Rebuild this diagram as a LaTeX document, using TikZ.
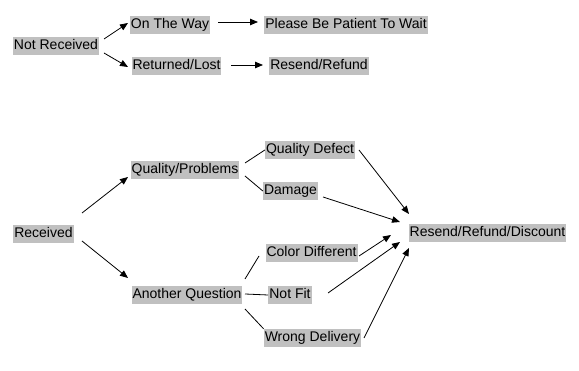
\documentclass[tikz,border=0pt]{standalone}
\usepackage{fontspec}
\setmainfont{Liberation Sans}
\usetikzlibrary{arrows.meta}
\tikzset{
  lbl/.style={fill=gray!50!white!95!black, inner xsep=1pt, inner ysep=2.5pt, text height=10pt, text depth=3pt, font=\fontsize{14}{16}\selectfont},
  arr/.style={-{Triangle[length=8pt,width=6.5pt]}, line width=0.8pt},
  ln/.style={line width=0.8pt}
}
\begin{document}
\begin{tikzpicture}[x=1pt,y=-1pt]
\useasboundingbox (0,0) rectangle (579,371);
\definecolor{boxgray}{RGB}{192,192,192}
\tikzset{lbl/.append style={fill=boxgray}}
\node[lbl] (nr) at (56,46) {Not Received};
\node[lbl] (otw) at (170,25) {On The Way};
\node[lbl] (pat) at (346,25) {Please Be Patient To Wait};
\node[lbl] (rl) at (176.5,66) {Returned/Lost};
\node[lbl] (rr) at (319,66) {Resend/Refund};
\node[lbl] (rec) at (43.5,234) {Received};
\node[lbl] (qp) at (185,170) {Quality/Problems};
\node[lbl] (aq) at (187,295) {Another Question};
\node[lbl] (qd) at (310,150) {Quality Defect};
\node[lbl] (dm) at (290.5,191) {Damage};
\node[lbl] (cd) at (311.5,253) {Color Different};
\node[lbl] (nf) at (290,295) {Not Fit};
\node[lbl] (wd) at (312.5,338) {Wrong Delivery};
\node[lbl] (rrd) at (487.5,233) {Resend/Refund/Discount};

\coordinate (a1) at (104,39); \coordinate (a2) at (128,23);
\draw[arr] (a1) -- (a2);
\coordinate (b1) at (104,53); \coordinate (b2) at (128,67);
\draw[arr] (b1) -- (b2);
\coordinate (c1) at (218,22); \coordinate (c2) at (258,22);
\draw[arr] (c1) -- (c2);
\coordinate (d1) at (231,65); \coordinate (d2) at (263,65);
\draw[arr] (d1) -- (d2);
\coordinate (e1) at (82,213); \coordinate (e2) at (128,177);
\draw[arr] (e1) -- (e2);
\coordinate (f1) at (82,241); \coordinate (f2) at (128,278);
\draw[arr] (f1) -- (f2);

\draw[ln] (245,163) -- (qd.west);
\draw[ln] (245,176) -- (dm.west);
\draw[ln] (245,279) -- (259,256);
\draw[ln] (245,294) -- (nf.west);
\draw[ln] (245,309) -- (wd.north west);

\coordinate (g1) at (359,150); \coordinate (g2) at (409,214);
\draw[arr] (g1) -- (g2);
\coordinate (h1) at (323,197); \coordinate (h2) at (400,222);
\draw[arr] (h1) -- (h2);
\coordinate (i1) at (359,256); \coordinate (i2) at (391,235);
\draw[arr] (i1) -- (i2);
\coordinate (j1) at (328,293); \coordinate (j2) at (400,242);
\draw[arr] (j1) -- (j2);
\coordinate (k1) at (364,338); \coordinate (k2) at (409,248);
\draw[arr] (k1) -- (k2);
\end{tikzpicture}
\end{document}
